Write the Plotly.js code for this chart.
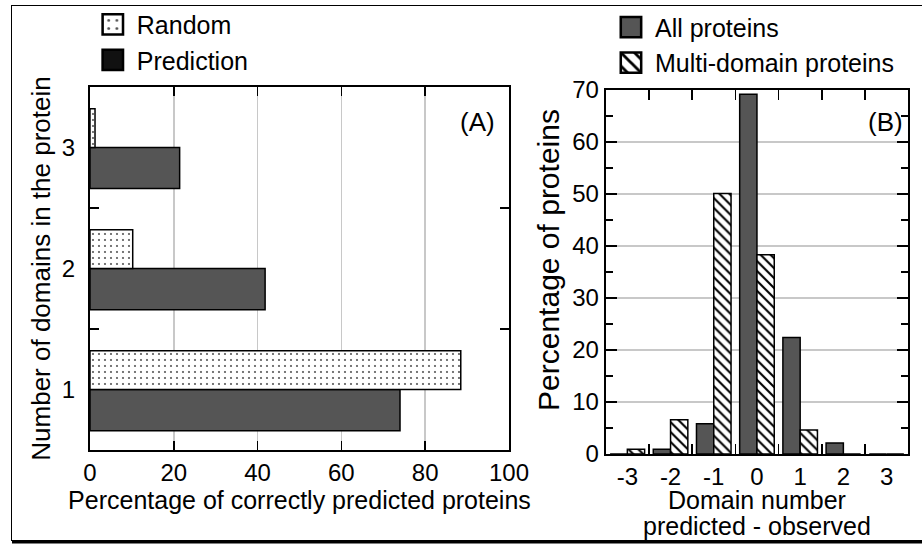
<!DOCTYPE html>
<html>
<head>
<meta charset="utf-8">
<script src="https://cdn.plot.ly/plotly-3.0.1.min.js"></script>
<style>
  html, body { margin: 0; padding: 0; background: #fff; }
  #wrap { position: relative; width: 922px; height: 547px; }
  #plot { position: absolute; left: 0; top: 0; width: 922px; height: 547px; }
  #frame { position: absolute; left: 11px; top: 5px; width: 915px; height: 534px;
           border: 1.5px solid #000; box-shadow: 1px 2.5px 0 #000; pointer-events: none; }
</style>
</head>
<body>
<div id="wrap">
  <div id="plot"></div>
  <div id="frame"></div>
</div>
<script>
// ---- Panel A data ----
var domainCounts = [1, 2, 3];
var predictionPct = [74, 41.8, 21.4];
var randomPct = [88.5, 10.2, 1.2];
var xTicksA = [0, 20, 40, 60, 80, 100];

// ---- Panel B data ----
var domainDiff = [-3, -2, -1, 0, 1, 2, 3];
var diffLabels = ['-3', '-2', '-1', '0', '1', '2', '3'];
var allProteinsPct = [0, 0.9, 5.8, 69.2, 22.4, 2.1, 0];
var multiDomainPct = [0.9, 6.6, 50.1, 38.3, 4.6, 0, 0];

var FONT = 'Liberation Sans, Arial, Helvetica, sans-serif';
var DARK = '#555555';
var GRID = '#c8c8c8';

var traces = [
  {
    type: 'bar', orientation: 'h', name: 'Prediction',
    y: domainCounts, x: predictionPct, xaxis: 'x', yaxis: 'y',
    width: 0.34, offset: -0.34,
    marker: { color: DARK, line: { color: '#000', width: 1.5 } },
    legend: 'legend'
  },
  {
    type: 'bar', orientation: 'h', name: 'Random',
    y: domainCounts, x: randomPct, xaxis: 'x', yaxis: 'y',
    width: 0.32, offset: 0,
    marker: { color: '#fff', line: { color: '#000', width: 1.5 },
              pattern: { shape: '.', fgcolor: '#555', bgcolor: '#fff', size: 6, solidity: 0.1 } },
    legend: 'legend'
  },
  {
    type: 'bar', name: 'All proteins',
    x: domainDiff, y: allProteinsPct, xaxis: 'x2', yaxis: 'y2',
    width: 0.4, offset: -0.4,
    marker: { color: DARK, line: { color: '#000', width: 1.5 } },
    legend: 'legend2'
  },
  {
    type: 'bar', name: 'Multi-domain proteins',
    x: domainDiff, y: multiDomainPct, xaxis: 'x2', yaxis: 'y2',
    width: 0.4, offset: 0,
    marker: { color: '#fff', line: { color: '#000', width: 1.5 },
              pattern: { shape: '\\', fgcolor: '#000', bgcolor: '#fff', size: 7, solidity: 0.3 } },
    legend: 'legend2'
  }
];

var axisCommon = {
  showline: true, linecolor: '#000', linewidth: 2,
  zeroline: false, tickfont: { family: FONT, size: 24, color: '#000' },
  tickcolor: '#000', tickwidth: 1.5, automargin: false
};

var layout = {
  width: 922, height: 547,
  margin: { l: 0, r: 0, t: 0, b: 0 },
  paper_bgcolor: '#fff', plot_bgcolor: '#fff',
  font: { family: FONT, size: 24, color: '#000' },
  barmode: 'group',
  showlegend: true,
  xaxis: Object.assign({}, axisCommon, {
    domain: [0.0976, 0.552], anchor: 'y', range: [0, 100],
    tickmode: 'array', tickvals: xTicksA,
    ticks: 'inside', ticklen: 9, mirror: 'ticks',
    showgrid: true, gridcolor: GRID, gridwidth: 1.5,
    title: { text: 'Percentage of correctly predicted proteins', font: { family: FONT, size: 25 }, standoff: 2 }
  }),
  yaxis: Object.assign({}, axisCommon, {
    domain: [0.1773, 0.841], anchor: 'x', range: [0.5, 3.5],
    tickmode: 'array', tickvals: domainCounts, ticks: '', ticklabelstandoff: 8,
    mirror: 'ticks', showgrid: false,
    minor: { tickmode: 'array', tickvals: [1.5, 2.5], ticks: 'inside', ticklen: 9, tickwidth: 1.5, tickcolor: '#000', showgrid: false },
    title: { text: 'Number of domains in the protein', font: { family: FONT, size: 26 }, standoff: 4 }
  }),
  xaxis2: Object.assign({}, axisCommon, {
    domain: [0.657, 0.985], anchor: 'y2', range: [-3.5, 3.5],
    tickmode: 'array', tickvals: domainDiff, ticktext: diffLabels, ticks: '',
    mirror: 'ticks', showgrid: false,
    minor: { tickmode: 'array', tickvals: [-2.5, -1.5, -0.5, 0.5, 1.5, 2.5], ticks: 'inside', ticklen: 10, tickwidth: 1.5, tickcolor: '#000', showgrid: false },
    title: { text: 'Domain number<br>predicted - observed', font: { family: FONT, size: 25 }, standoff: 5 }
  }),
  yaxis2: Object.assign({}, axisCommon, {
    domain: [0.170, 0.8355], anchor: 'x2', range: [0, 70],
    tickmode: 'linear', tick0: 0, dtick: 10,
    ticks: 'inside', ticklen: 11, mirror: 'ticks',
    showgrid: true, gridcolor: GRID, gridwidth: 1.5,
    minor: { tickmode: 'linear', tick0: 0, dtick: 5, ticks: 'inside', ticklen: 7, tickwidth: 1.5, tickcolor: '#000', showgrid: false },
    title: { text: 'Percentage of proteins', font: { family: FONT, size: 30 }, standoff: 4 }
  }),
  legend: {
    x: 0.105, y: 0.997, xanchor: 'left', yanchor: 'top',
    traceorder: 'reversed', bgcolor: 'rgba(0,0,0,0)',
    font: { family: FONT, size: 25 }, tracegroupgap: 0
  },
  legend2: {
    x: 0.667, y: 0.992, xanchor: 'left', yanchor: 'top',
    traceorder: 'normal', bgcolor: 'rgba(0,0,0,0)',
    font: { family: FONT, size: 25 }, tracegroupgap: 0
  },
  annotations: [
    { text: '(A)', xref: 'x domain', yref: 'y domain', x: 0.926, y: 0.904,
      xanchor: 'center', yanchor: 'middle',
      showarrow: false, font: { family: FONT, size: 26 } },
    { text: '(B)', xref: 'x2 domain', yref: 'y2 domain', x: 0.924, y: 0.912,
      xanchor: 'center', yanchor: 'middle',
      showarrow: false, font: { family: FONT, size: 26 } }
  ]
};

Plotly.newPlot('plot', traces, layout, { staticPlot: true, displayModeBar: false }).then(function (gd) {
  // enlarge legend swatches (both legends)
  gd.querySelectorAll('.legendpoints path').forEach(function (p) {
    var t = p.getAttribute('transform') || '';
    p.setAttribute('transform', 'translate(-4,0) ' + t + ' scale(1.7)');
  });
  // the reference draws the "Prediction" swatch in solid black
  gd.querySelectorAll('.legend .traces').forEach(function (g) {
    var txt = g.querySelector('.legendtext');
    if (txt && txt.textContent === 'Prediction') {
      var p = g.querySelector('.legendpoints path');
      if (p) p.style.fill = '#111';
    }
  });
  // tighter line spacing for the two-line x2 title
  gd.querySelectorAll('.g-x2title tspan.line').forEach(function (s, i) {
    if (i > 0) {
      var dy = s.getAttribute('dy');
      if (dy && dy.indexOf('em') > 0) {
        s.setAttribute('dy', (parseFloat(dy) * 0.78) + 'em');
      }
    }
  });
  // nudge the panel B y title upward
  var yt = gd.querySelector('.g-y2title text');
  if (yt) {
    var tr = yt.getAttribute('transform') || '';
    yt.setAttribute('transform', 'translate(0,-12) ' + tr);
  }
});
</script>
</body>
</html>
